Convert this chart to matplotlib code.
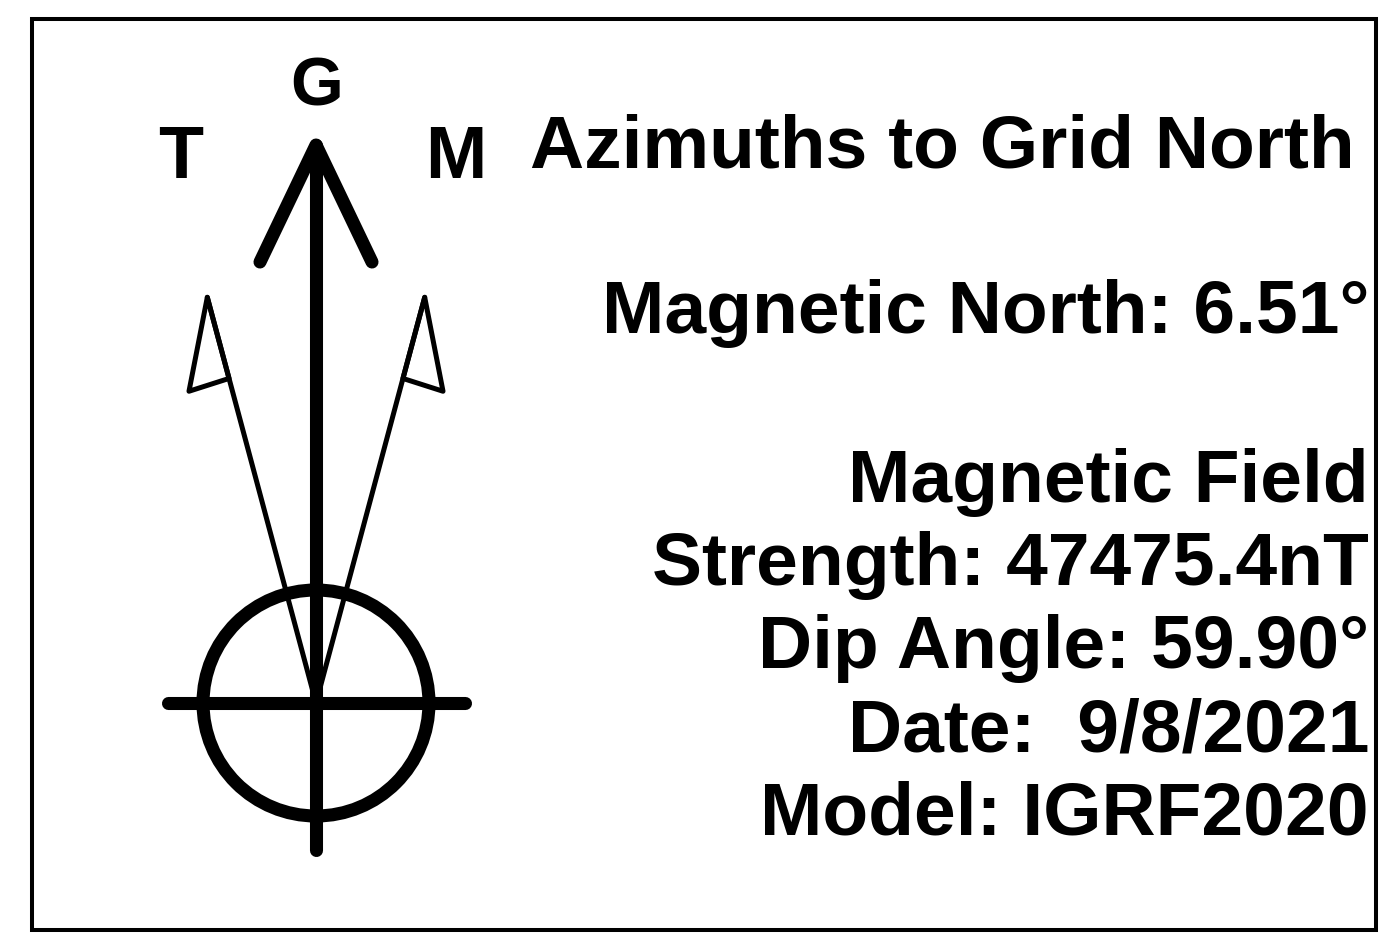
import numpy as np
import matplotlib
matplotlib.use("Agg")
import matplotlib.pyplot as plt
from matplotlib.patches import Circle, Rectangle, Polygon

plt.rcParams['font.family'] = ['Liberation Sans', 'DejaVu Sans']

# arrow labels and directions (drawing angles in degrees, clockwise from up)
arrow_labels = ["T", "G", "M"]
arrow_angles = [-15, 0, 15]

title = "Azimuths to Grid North"
info_lines = ["Magnetic North: 6.51°"]
field_lines = ["Magnetic Field", "Strength: 47475.4nT", "Dip Angle: 59.90°",
               "Date:  9/8/2021", "Model: IGRF2020"]

W, H = 1385, 934
fig = plt.figure(figsize=(W / 100, H / 100), dpi=100)
ax = fig.add_axes([0, 0, 1, 1])
ax.set_xlim(0, W)
ax.set_ylim(H, 0)
ax.axis("off")

# frame
ax.add_patch(Rectangle((32, 19), 1344, 911, fill=False, lw=2.9, ec="black"))

# compass rose
cx, cy = 316, 703
thick = 9.4
thin = 3.6
ax.add_patch(Circle((cx, cy), 113, fill=False, lw=thick, ec="black"))
ax.plot([168, 465], [cy, cy], color="black", lw=thick, solid_capstyle="round")

# grid north arrow
g_tip = 145
ax.plot([cx, cx], [850, g_tip], color="black", lw=thick, solid_capstyle="round")
ax.plot([260, cx, 372], [262, g_tip, 262], color="black", lw=thick,
        solid_capstyle="round", solid_joinstyle="round")

# true and magnetic half-arrows
L = 420
for ang in (arrow_angles[0], arrow_angles[2]):
    a = np.radians(ang)
    ux, uy = np.sin(a), -np.cos(a)
    px, py = np.cos(a), np.sin(a)
    side = np.sign(ang)
    tip = (cx + L * ux, cy + L * uy)
    ax.plot([cx, tip[0]], [cy, tip[1]], color="black", lw=thin, solid_capstyle="round")
    barb = (cx + 334 * ux + side * 42 * px, cy + 334 * uy + side * 42 * py)
    base = (cx + 336 * ux, cy + 336 * uy)
    ax.add_patch(Polygon([tip, barb, base], closed=True, fill=False, lw=thin,
                         ec="black", joinstyle="round"))

# arrow letters
ax.text(181, 178, arrow_labels[0], fontsize=53, fontweight="bold", ha="center", va="baseline")
ax.text(317, 106, arrow_labels[1], fontsize=49, fontweight="bold", ha="center", va="baseline")
ax.text(456, 178, arrow_labels[2], fontsize=53, fontweight="bold", ha="center", va="baseline")

# text block
fs = 54
ax.text(942, 168, title, fontsize=fs, fontweight="bold", ha="center", va="baseline")
ax.text(1369, 333, info_lines[0], fontsize=fs, fontweight="bold", ha="right", va="baseline")
for i, line in enumerate(field_lines):
    ax.text(1369, 502 + 83.2 * i, line, fontsize=fs, fontweight="bold",
            ha="right", va="baseline")

fig.savefig("out.png", dpi=100)
